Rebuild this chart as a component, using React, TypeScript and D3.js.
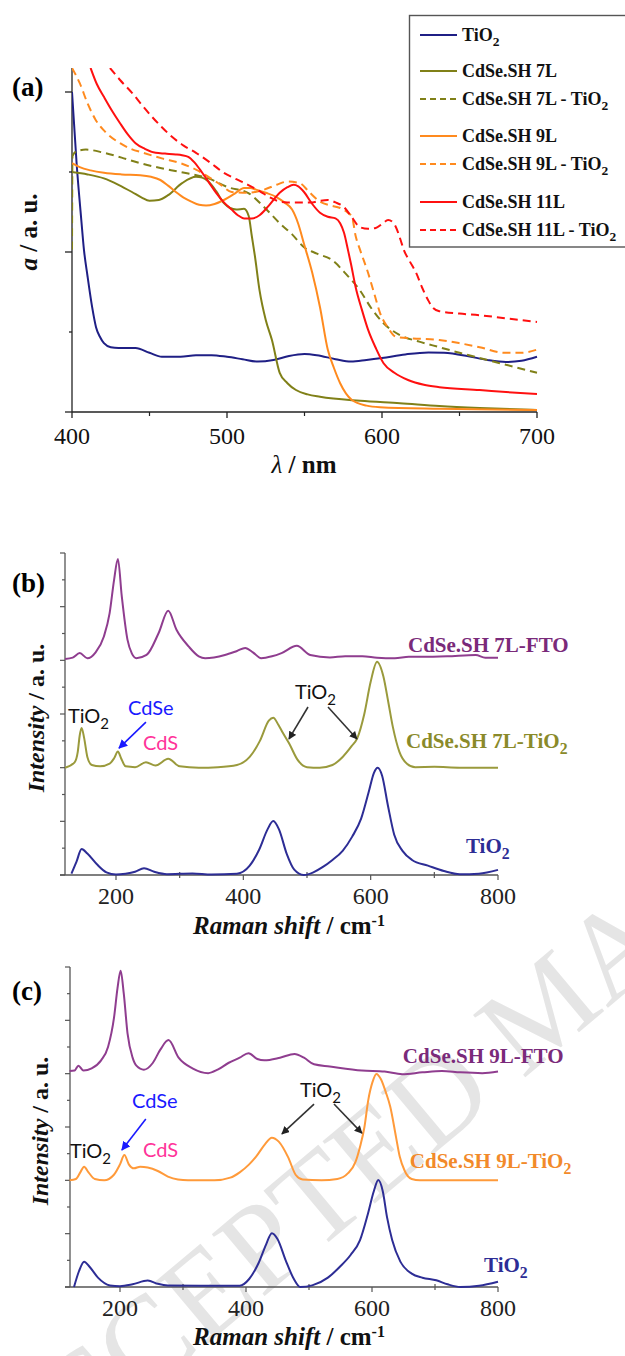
import React from 'react';
import * as d3 from 'd3';

type P = [number, number];

// ---------- Panel (a): absorption, wavelength (nm) vs a (a.u.) ----------
const absTiO2: P[] = [[400,4.0],[403,3.1],[406,2.4],[407.7,2.03],[410,1.7],[413,1.31],[415.5,1.06],[418,0.94],[420.6,0.86],[425,0.81],[430,0.8],[441,0.8],[450,0.74],[458,0.69],[470,0.69],[480,0.71],[490,0.71],[500,0.69],[510,0.66],[520,0.63],[530,0.65],[540,0.7],[550,0.725],[558,0.71],[570,0.66],[580,0.63],[590,0.65],[600,0.675],[615,0.72],[630,0.745],[640,0.74],[655,0.7],[668,0.65],[680,0.625],[690,0.64],[700,0.69]];
const abs7L: P[] = [[400,3.0],[410,2.97],[420.6,2.92],[430,2.84],[438.7,2.75],[445,2.68],[450,2.64],[456,2.65],[462,2.71],[471,2.86],[480,2.94],[484,2.93],[488,2.88],[493,2.76],[498,2.61],[502,2.55],[506,2.53],[511,2.54],[514,2.45],[516,2.2],[518,1.95],[521,1.52],[525,1.15],[529,0.9],[534,0.49],[539,0.36],[544.5,0.275],[552,0.22],[560,0.19],[586,0.14],[611.6,0.11],[637,0.075],[663,0.05],[700,0.025]];
const abs7LTiO2: P[] = [[400,2.03],[400.3,3.2],[403,3.26],[409,3.28],[420.6,3.24],[432,3.18],[444,3.11],[457,3.05],[470,3.0],[488,2.92],[500.6,2.81],[513.5,2.74],[524,2.56],[534,2.36],[542,2.22],[549.7,2.06],[558,1.98],[567.7,1.9],[577,1.72],[585.8,1.52],[593,1.3],[601,1.11],[611.6,0.96],[624,0.88],[637,0.81],[650,0.74],[663,0.675],[680,0.59],[700,0.49]];
const abs9L: P[] = [[400,3.11],[405,3.06],[412,3.02],[420.6,2.99],[432,2.97],[444,2.96],[451,2.94],[457,2.9],[462,2.83],[467,2.75],[472,2.68],[477,2.63],[482,2.59],[486.5,2.58],[492,2.6],[498,2.65],[505,2.73],[511,2.8],[515,2.8],[518.7,2.78],[525,2.74],[531.6,2.69],[537,2.62],[542,2.53],[546,2.35],[549.7,2.1],[555,1.74],[560,1.31],[565,0.78],[569,0.55],[573,0.36],[580.6,0.15],[590,0.08],[598.7,0.06],[637,0.04],[700,0.025]];
const abs9LTiO2: P[] = [[400,4.3],[405,4.11],[410,3.86],[415,3.66],[420.6,3.52],[431,3.36],[438,3.29],[446,3.24],[458,3.17],[470,3.11],[480,3.03],[488,2.94],[496,2.84],[503,2.75],[513.5,2.74],[524,2.78],[532,2.84],[539,2.88],[547,2.86],[553,2.75],[560,2.63],[567,2.58],[573,2.55],[578,2.49],[580.6,2.44],[583,2.2],[585.8,2.03],[591,1.74],[595,1.48],[598.7,1.24],[604,1.05],[609,0.94],[620,0.92],[637,0.9],[650,0.86],[663,0.81],[678.7,0.74],[690,0.74],[700,0.78]];
const abs11L: P[] = [[412,4.3],[416,4.1],[420.6,3.94],[426,3.76],[431,3.61],[436,3.47],[441,3.36],[447,3.29],[454,3.24],[460,3.23],[467,3.22],[471,3.21],[475,3.19],[479,3.12],[482.6,3.03],[488,2.88],[493,2.74],[498,2.62],[503,2.53],[507,2.46],[511,2.42],[516,2.42],[521,2.46],[527,2.58],[534,2.74],[539,2.81],[543,2.84],[546,2.82],[549.7,2.75],[555,2.6],[560,2.49],[565,2.44],[570,2.42],[573,2.36],[575.5,2.24],[578,2.03],[580,1.85],[583,1.56],[587,1.28],[591,1.03],[596,0.8],[601,0.61],[608,0.49],[616.8,0.4],[627,0.34],[637,0.31],[663,0.275],[680,0.25],[700,0.225]];
const abs11LTiO2: P[] = [[424.5,4.3],[431,4.15],[438.7,3.99],[445,3.84],[451.6,3.69],[458,3.56],[464.5,3.44],[472,3.33],[480,3.24],[489,3.12],[498,2.99],[506,2.91],[513.5,2.84],[521,2.76],[529,2.67],[534,2.63],[539,2.62],[547,2.62],[555,2.62],[560,2.64],[565,2.65],[570,2.62],[575.5,2.56],[580,2.45],[585.8,2.31],[591,2.29],[596,2.3],[600,2.35],[604,2.4],[607,2.37],[609,2.31],[612,2.15],[614,2.03],[618,1.88],[622,1.74],[626,1.55],[629.7,1.4],[633,1.3],[637,1.26],[650,1.23],[663,1.21],[680,1.17],[700,1.125]];

const absXTicks = [400, 500, 600, 700];
const absXMinor = [450, 550, 650];
const absYTicks = [0, 1, 2, 3, 4];
const legendLabels = ['TiO2', 'CdSe.SH 7L', 'CdSe.SH 7L - TiO2', 'CdSe.SH 9L', 'CdSe.SH 9L - TiO2', 'CdSe.SH 11L', 'CdSe.SH 11L - TiO2'];

// ---------- Panel (b): Raman, 7L ----------
const ramanB_FTO: P[] = [[120,8.05],[132,8.1],[143,8.27],[155,8.08],[168,8.3],[181,8.89],[190,9.76],[197,11.0],[203,11.78],[209,10.4],[218,8.77],[225,8.25],[232,8.08],[248,8.2],[267,9.02],[282,9.85],[295,9.14],[314,8.52],[330,8.15],[340,8.08],[371,8.2],[390,8.35],[403,8.46],[415,8.3],[428,8.08],[445,8.15],[460,8.27],[484,8.54],[505,8.2],[536,8.11],[560,8.15],[587,8.15],[610,8.1],[638,8.08],[660,8.13],[682,8.13],[720,8.15],[765,8.2],[780,8.1],[800,8.1]];
const ramanB_Comp: P[] = [[120,4.0],[135,4.2],[140,4.6],[143,5.2],[146,5.48],[150,5.1],[155,4.4],[162,4.1],[175,4.05],[190,4.15],[197,4.35],[203,4.6],[208,4.35],[215,4.05],[230,4.02],[247,4.2],[262,4.08],[282,4.33],[300,4.05],[330,4.0],[360,4.02],[390,4.1],[410,4.4],[426,5.0],[440,5.75],[447,5.86],[455,5.6],[462,5.3],[472,4.9],[485,4.3],[500,4.02],[520,4.0],[540,4.1],[556,4.4],[570,4.8],[579,5.1],[590,6.0],[600,7.2],[610,7.95],[620,7.4],[628,6.4],[635,5.5],[645,4.6],[657,4.15],[670,4.02],[700,4.03],[740,4.0],[800,4.0]];
const ramanB_TiO2: P[] = [[130,0.05],[138,0.5],[146,0.97],[155,0.8],[170,0.4],[185,0.1],[200,0.02],[215,0.05],[230,0.12],[244,0.25],[260,0.12],[280,0.03],[320,0.06],[350,0.02],[390,0.05],[410,0.35],[425,0.95],[438,1.7],[447,2.01],[456,1.7],[468,0.8],[480,0.2],[495,0.0],[510,0.1],[525,0.3],[540,0.56],[556,0.9],[571,1.43],[585,2.1],[597,3.1],[605,3.8],[611,4.0],[618,3.7],[627,2.6],[637,1.5],[650,0.9],[665,0.56],[690,0.35],[715,0.15],[740,0.03],[770,0.05],[800,0.19]];

// ---------- Panel (c): Raman, 9L ----------
const ramanC_FTO: P[] = [[120,8.1],[128,8.12],[134,8.3],[142,8.12],[155,8.2],[170,8.5],[181,9.0],[190.5,10.1],[196,11.2],[201,11.86],[206,11.0],[212,9.5],[220,8.6],[226,8.3],[238,8.15],[252,8.4],[264,8.9],[277,9.26],[293,8.6],[315,8.2],[340,8.02],[355,8.15],[372,8.4],[390,8.6],[404,8.77],[418,8.55],[429,8.5],[454,8.6],[477,8.74],[492,8.6],[508,8.35],[533,8.27],[584,8.12],[620,8.08],[648,7.98],[680,8.05],[711,8.1],[740,8.05],[775,8.02],[800,8.08]];
const ramanC_Comp: P[] = [[120,4.0],[130,4.05],[137,4.3],[143,4.51],[150,4.3],[160,4.05],[175,4.0],[190,4.2],[200,4.6],[207,4.95],[214,4.6],[222,4.45],[232,4.51],[244,4.48],[260,4.35],[276,4.14],[292,4.03],[308,4.0],[350,4.0],[375,4.1],[390,4.3],[405,4.6],[416,4.89],[430,5.35],[441,5.6],[452,5.45],[467,4.86],[479,4.2],[490,4.03],[520,4.0],[545,4.05],[562,4.27],[574,4.7],[581,5.26],[588,6.0],[594,7.0],[601,7.7],[607,7.99],[614,7.8],[622,7.3],[629,6.76],[638,5.64],[644,4.89],[652,4.35],[663,4.05],[676,4.0],[800,4.0]];
const ramanC_TiO2: P[] = [[127,0.0],[135,0.6],[143,0.95],[152,0.75],[165,0.35],[184,0.06],[200,0.03],[220,0.1],[244,0.24],[260,0.12],[276,0.06],[327,0.05],[390,0.05],[405,0.3],[420,0.9],[432,1.6],[441,2.02],[450,1.8],[463,1.0],[476,0.3],[486,0.0],[505,0.06],[530,0.35],[549,0.76],[566,1.2],[581,1.76],[593,2.7],[603,3.6],[610,4.01],[617,3.6],[624,2.6],[632,1.76],[645,0.95],[663,0.5],[680,0.35],[702,0.25],[720,0.1],[740,0.0],[770,0.05],[800,0.2]];

const ramanXTicks = [200, 400, 600, 800];
const ramanXMinor = [300, 500, 700];
const ramanYTicks = d3.range(0, 13);

const SERIF = "'Liberation Serif', 'Times New Roman', serif";
const SANS = "Lato, 'Liberation Sans', Arial, sans-serif";

const C_NAVY = '#1f1f85';
const C_OLIVE = '#808018';
const C_ORANGE = '#ff8a1e';
const C_RED = '#ff1010';
const R_NAVY = '#2d2d95';
const R_OLIVE = '#9a9a3c';
const R_OLIVE_T = '#8a8a2a';
const R_ORANGE = '#ff9a3a';
const R_ORANGE_T = '#f28a2a';
const R_PURPLE = '#8f3d8f';
const R_PURPLE_T = '#7a2a7a';

function SubText({ x, y, text, size, fill, weight = 'bold', family = SERIF, anchor = 'start' }: any) {
  const m = text.match(/^(.*TiO)2$/);
  if (!m) {
    return <text x={x} y={y} fontFamily={family} fontSize={size} fontWeight={weight} fill={fill} textAnchor={anchor}>{text}</text>;
  }
  return (
    <text x={x} y={y} fontFamily={family} fontSize={size} fontWeight={weight} fill={fill} textAnchor={anchor}>
      {m[1]}<tspan dy={size * 0.3} fontSize={size * 0.75}>2</tspan>
    </text>
  );
}

function RamanPanel({ xs, ys, axisX, series, labels, annots, arrows, panelLabel, panelLabelY, ylabelX, xlabelY, tickLabelY }: any) {
  const line = d3.line<P>().x(d => xs(d[0])).y(d => ys(d[1])).curve(d3.curveMonotoneX);
  const y0 = ys(0);
  const yTop = ys(12);
  const x800 = xs(800);
  return (
    <g>
      <line x1={axisX - 5} x2={x800} y1={y0} y2={y0} stroke="#555" strokeWidth={1.3} />
      <line x1={axisX} x2={axisX} y1={yTop} y2={y0} stroke="#555" strokeWidth={1.3} />
      {ramanXTicks.map(t => <line key={'mx' + t} x1={xs(t)} x2={xs(t)} y1={y0} y2={y0 + 5} stroke="#555" strokeWidth={1.2} />)}
      {ramanXMinor.map(t => <line key={'nx' + t} x1={xs(t)} x2={xs(t)} y1={y0 - 3} y2={y0 + 3} stroke="#555" strokeWidth={1.2} />)}
      {ramanYTicks.map(t => <line key={'y' + t} x1={axisX - (t % 2 === 0 ? 5 : 3)} x2={axisX} y1={ys(t)} y2={ys(t)} stroke="#555" strokeWidth={1.2} />)}
      {ramanXTicks.map(t => <text key={'tl' + t} x={xs(t)} y={tickLabelY} textAnchor="middle" fontFamily={SERIF} fontSize={24} fill="#222">{t}</text>)}
      {series.map((s: any, i: number) => <path key={i} d={line(s.data) || ''} fill="none" stroke={s.color} strokeWidth={2} />)}
      {labels.map((l: any, i: number) => <SubText key={i} x={xs(l.x)} y={ys(l.y)} text={l.text} size={21} fill={l.color} />)}
      {arrows.map((a: any, i: number) => (
        <line key={i} x1={xs(a.x1)} y1={ys(a.y1)} x2={xs(a.x2)} y2={ys(a.y2)} stroke={a.color} strokeWidth={1.6} markerEnd={`url(#${a.marker})`} />
      ))}
      {annots.map((l: any, i: number) => <SubText key={i} x={xs(l.x)} y={ys(l.y)} text={l.text} size={20} fill={l.color} weight="normal" family={SANS} />)}
      <text x={12} y={panelLabelY} fontFamily={SERIF} fontSize={27} fontWeight="bold">{panelLabel}</text>
      <text transform={`translate(${ylabelX},${(yTop + y0) / 2 + 4}) rotate(-90)`} textAnchor="middle" fontFamily={SERIF} fontSize={24} fontWeight="bold" fill="#111">
        <tspan fontStyle="italic">Intensity</tspan> / a. u.
      </text>
      <text x={289} y={xlabelY} textAnchor="middle" fontFamily={SERIF} fontSize={25} fontWeight="bold" fill="#111">
        <tspan fontStyle="italic">Raman shift</tspan> / cm<tspan dy={-8} fontSize={16}>-1</tspan>
      </text>
    </g>
  );
}

export default function App() {
  const xA = d3.scaleLinear().domain([400, 700]).range([72, 537]);
  const yA = d3.scaleLinear().domain([0, 4.3]).range([412, 68]);
  const lineA = d3.line<P>().x(d => xA(d[0])).y(d => yA(d[1])).curve(d3.curveMonotoneX);
  const absSeries = [
    { data: absTiO2, color: C_NAVY, dash: '' },
    { data: abs7L, color: C_OLIVE, dash: '' },
    { data: abs7LTiO2, color: C_OLIVE, dash: '8 5' },
    { data: abs9L, color: C_ORANGE, dash: '' },
    { data: abs9LTiO2, color: C_ORANGE, dash: '8 5' },
    { data: abs11L, color: C_RED, dash: '' },
    { data: abs11LTiO2, color: C_RED, dash: '8 5' },
  ];
  const legendRowY = [35, 71, 99, 136, 164, 202, 230];

  const xB = d3.scaleLinear().domain([200, 800]).range([116, 498]);
  const yB = d3.scaleLinear().domain([0, 12]).range([875, 553]);
  const xC = d3.scaleLinear().domain([200, 800]).range([120, 498]);
  const yC = d3.scaleLinear().domain([0, 12]).range([1287, 967]);

  return (
    <svg width={625} height={1356} style={{ position: 'absolute', left: 0, top: 0, background: '#fff' }}>
      <defs>
        <clipPath id="clipA"><rect x={72} y={68} width={470} height={344} /></clipPath>
        <marker id="arrBlack" viewBox="0 0 10 10" refX={9} refY={5} markerWidth={8} markerHeight={8} orient="auto" markerUnits="userSpaceOnUse">
          <path d="M0,0 L10,5 L0,10 z" fill="#222" />
        </marker>
        <marker id="arrBlue" viewBox="0 0 10 10" refX={9} refY={5} markerWidth={9} markerHeight={9} orient="auto" markerUnits="userSpaceOnUse">
          <path d="M0,0 L10,5 L0,10 z" fill="#1a1aff" />
        </marker>
      </defs>

      {/* watermark */}
      <text transform="translate(-20,1478) rotate(-40)" dy="0.35em" fontFamily={SERIF} fontSize={124} fill="#e5e5e5">ACCEPTED MANUSCRIPT</text>

      {/* ---------- Panel (a) ---------- */}
      <g>
        <line x1={72} x2={537} y1={412} y2={412} stroke="#222" strokeWidth={1.3} />
        <line x1={72} x2={72} y1={68} y2={412} stroke="#222" strokeWidth={1.3} />
        {absXTicks.map(t => <line key={t} x1={xA(t)} x2={xA(t)} y1={412} y2={418} stroke="#222" strokeWidth={1.3} />)}
        {absXMinor.map(t => <line key={t} x1={xA(t)} x2={xA(t)} y1={412} y2={416} stroke="#222" strokeWidth={1.2} />)}
        {absYTicks.map(t => <line key={t} x1={72 - (t % 2 === 0 ? 7 : 3)} x2={72} y1={yA(t)} y2={yA(t)} stroke="#222" strokeWidth={1.3} />)}
        {absXTicks.map(t => <text key={'l' + t} x={xA(t)} y={444} textAnchor="middle" fontFamily={SERIF} fontSize={24} fill="#111">{t}</text>)}
        <g clipPath="url(#clipA)">
          {absSeries.map((s, i) => <path key={i} d={lineA(s.data) || ''} fill="none" stroke={s.color} strokeWidth={2} strokeDasharray={s.dash || undefined} />)}
        </g>
        <text x={12} y={96} fontFamily={SERIF} fontSize={27} fontWeight="bold">(a)</text>
        <text transform="translate(37,232) rotate(-90)" textAnchor="middle" fontFamily={SERIF} fontSize={25} fontWeight="bold" fill="#111">
          <tspan fontStyle="italic">a</tspan> / a. u.
        </text>
        <text x={304} y={473} textAnchor="middle" fontFamily={SERIF} fontSize={25} fontWeight="bold" fill="#111">
          <tspan fontStyle="italic" fontWeight="normal">λ</tspan> / nm
        </text>
        <rect x={409.5} y={15.5} width={240} height={231.5} fill="#fff" stroke="#555" strokeWidth={1.4} />
        {legendLabels.map((lab, i) => (
          <g key={lab}>
            <line x1={420} x2={457} y1={legendRowY[i]} y2={legendRowY[i]} stroke={absSeries[i].color} strokeWidth={2.2} strokeDasharray={absSeries[i].dash ? '6 4' : undefined} />
            <SubText x={462} y={legendRowY[i] + 6} text={lab} size={18} fill="#111" />
          </g>
        ))}
      </g>

      {/* ---------- Panel (b) ---------- */}
      <RamanPanel
        xs={xB} ys={yB} axisX={65}
        series={[
          { data: ramanB_FTO, color: R_PURPLE },
          { data: ramanB_Comp, color: R_OLIVE },
          { data: ramanB_TiO2, color: R_NAVY },
        ]}
        labels={[
          { x: 658.6, y: 8.31, text: 'CdSe.SH 7L-FTO', color: R_PURPLE_T },
          { x: 655.5, y: 4.73, text: 'CdSe.SH 7L-TiO2', color: R_OLIVE_T },
          { x: 749.7, y: 0.82, text: 'TiO2', color: R_NAVY },
        ]}
        annots={[
          { x: 124.6, y: 5.67, text: 'TiO2', color: '#111' },
          { x: 218.8, y: 5.96, text: 'CdSe', color: '#1a1aff' },
          { x: 242.4, y: 4.66, text: 'CdS', color: '#ff3399' },
          { x: 481, y: 6.56, text: 'TiO2', color: '#111' },
        ]}
        arrows={[
          { x1: 501.6, y1: 6.26, x2: 471.7, y2: 5.07, color: '#333', marker: 'arrBlack' },
          { x1: 533, y1: 6.26, x2: 578.5, y2: 5.07, color: '#333', marker: 'arrBlack' },
          { x1: 247, y1: 5.7, x2: 204.7, y2: 4.73, color: '#1a1aff', marker: 'arrBlue' },
        ]}
        panelLabel="(b)" panelLabelY={592} ylabelX={44} xlabelY={934} tickLabelY={904}
      />

      {/* ---------- Panel (c) ---------- */}
      <RamanPanel
        xs={xC} ys={yC} axisX={70}
        series={[
          { data: ramanC_FTO, color: R_PURPLE },
          { data: ramanC_Comp, color: R_ORANGE },
          { data: ramanC_TiO2, color: R_NAVY },
        ]}
        labels={[
          { x: 649, y: 8.4, text: 'CdSe.SH 9L-FTO', color: R_PURPLE_T },
          { x: 660, y: 4.46, text: 'CdSe.SH 9L-TiO2', color: R_ORANGE_T },
          { x: 777.8, y: 0.56, text: 'TiO2', color: R_NAVY },
        ]}
        annots={[
          { x: 120.6, y: 4.84, text: 'TiO2', color: '#111' },
          { x: 219, y: 6.71, text: 'CdSe', color: '#1a1aff' },
          { x: 236.5, y: 4.87, text: 'CdS', color: '#ff3399' },
          { x: 485.7, y: 7.12, text: 'TiO2', color: '#111' },
        ]}
        arrows={[
          { x1: 508, y1: 6.86, x2: 457, y2: 5.74, color: '#333', marker: 'arrBlack' },
          { x1: 539.7, y1: 6.86, x2: 584, y2: 5.77, color: '#333', marker: 'arrBlack' },
          { x1: 241, y1: 6.3, x2: 203, y2: 5.14, color: '#1a1aff', marker: 'arrBlue' },
        ]}
        panelLabel="(c)" panelLabelY={1000} ylabelX={48} xlabelY={1345} tickLabelY={1316}
      />
    </svg>
  );
}
